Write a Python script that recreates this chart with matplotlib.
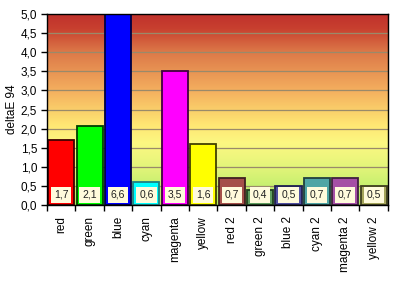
import numpy as np
import matplotlib.pyplot as plt
from matplotlib.colors import LinearSegmentedColormap

plt.rcParams['font.family'] = ['Liberation Sans', 'DejaVu Sans']

categories = ['red', 'green', 'blue', 'cyan', 'magenta', 'yellow',
              'red 2', 'green 2', 'blue 2', 'cyan 2', 'magenta 2', 'yellow 2']
values = [1.7, 2.06, 6.6, 0.6, 3.5, 1.6, 0.7, 0.4, 0.5, 0.7, 0.7, 0.5]
fills = ['#ff0000', '#00ff00', '#0000ff', '#00ffff', '#ff00ff', '#ffff00',
         '#a5504a', '#5f9e5f', '#5050a0', '#4fa5a5', '#a550a5', '#a5a55a']
edges = ['#400000', '#004000', '#000040', '#208080', '#400040', '#404000',
         '#402020', '#204020', '#202050', '#204040', '#402040', '#404020']

fig = plt.figure(figsize=(3.95, 2.81), dpi=100)
ax = fig.add_axes([0.119, 0.270, 0.863, 0.680])

# background gradient
bg = LinearSegmentedColormap.from_list('bg', [
    (0.0, '#aaeb64'), (0.2, '#e4f57a'), (0.32, '#fcf882'), (0.42, '#ffe673'),
    (0.6, '#f4ae5e'), (0.8, '#dc7848'), (0.92, '#c8402f'), (1.0, '#bf302c')])
grad = np.linspace(0, 1, 256).reshape(-1, 1)
ax.imshow(grad, cmap=bg, aspect='auto', extent=[-0.5, 11.5, 0, 5],
          origin='lower', zorder=0)

for y in np.arange(0.5, 5.0, 0.5):
    ax.axhline(y, color='#9a8a6a', lw=0.9, zorder=1)

x = np.arange(len(categories))
ax.bar(x, values, width=0.92, color=fills, edgecolor=edges, linewidth=1.3, zorder=2)

for i, v in enumerate(values):
    ax.text(i, 0.27, f'{v:.1f}'.replace('.', ','), ha='center', va='center',
            fontsize=7.5, color='#202020', zorder=4,
            bbox=dict(boxstyle='square,pad=0.28', fc='#fffbdc', ec='none'))

ax.set_xlim(-0.5, 11.5)
ax.set_ylim(0, 5)
ax.set_yticks(np.arange(0, 5.01, 0.5))
ax.set_yticklabels([f'{t:.1f}'.replace('.', ',') for t in np.arange(0, 5.01, 0.5)], fontsize=8.5)
ax.set_xticks(x)
ax.set_xticklabels(categories, rotation=90, fontsize=8.5)
ax.set_xticks(np.arange(-0.5, 11.6, 1), minor=True)
ax.tick_params(axis='x', which='major', length=0, pad=8)
ax.tick_params(axis='x', which='minor', length=4, width=1)
ax.tick_params(axis='y', length=4, width=1, pad=3)
ax.set_ylabel('deltaE 94', fontsize=8.5, labelpad=2)
for s in ax.spines.values():
    s.set_linewidth(1)

fig.savefig('out.png', dpi=100)
